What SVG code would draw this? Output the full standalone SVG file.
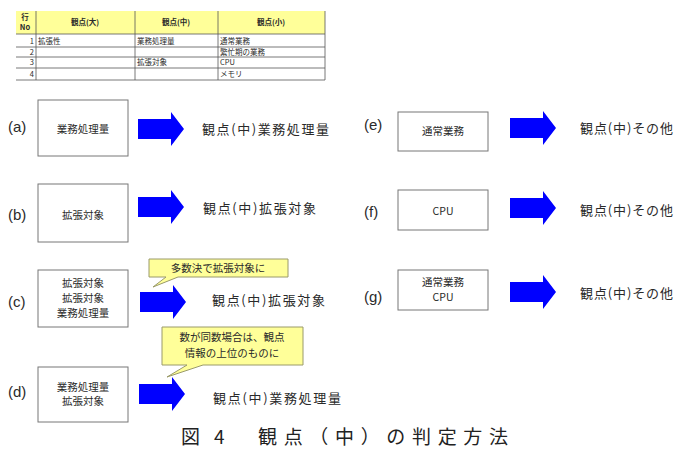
<svg xmlns="http://www.w3.org/2000/svg" xmlns:xlink="http://www.w3.org/1999/xlink" width="684" height="451" viewBox="0 0 684 451">
<style>
  text { font-family: "Noto Sans CJK JP", "Liberation Sans", sans-serif; fill: #2a2a2a; }
  .tbl { font-size: 7.5px; }
  .th { font-size: 7.5px; font-weight: bold; text-anchor: middle; }
  .tl { stroke: #555; stroke-width: 0.8; fill: none; }
  .box { fill: #fff; stroke: #777; stroke-width: 1; }
  .bt { font-size: 10.5px; text-anchor: middle; }
  .lbl { font-family: "Liberation Sans", "Noto Sans CJK JP", sans-serif; font-size: 15px; }
  .res { font-size: 13px; }
  .callout { fill: #ffff99; stroke: #9a9a6a; stroke-width: 1; }
  .ct { font-size: 10.5px; text-anchor: middle; }
  .arr { fill: #0000ff; }
  .cap { font-size: 19px; fill: #222; }
</style>
<defs>
  <path id="arr" d="M0,-10 H33 V-17 L46,0 L33,17 V10 H0 Z"/>
</defs>

<g id="table">
  <rect x="16" y="11" width="309" height="23" fill="#ffff99"/>
  <line class="tl" x1="16" y1="34" x2="325" y2="34" stroke-width="1.2"/>
  <line class="tl" x1="16" y1="47" x2="325" y2="47"/>
  <line class="tl" x1="16" y1="57" x2="325" y2="57"/>
  <line class="tl" x1="16" y1="68" x2="325" y2="68"/>
  <line class="tl" x1="16" y1="80" x2="325" y2="80"/>
  <line class="tl" x1="36" y1="11" x2="36" y2="80"/>
  <line class="tl" x1="135" y1="11" x2="135" y2="80"/>
  <line class="tl" x1="218" y1="11" x2="218" y2="80"/>
  <line class="tl" x1="325" y1="11" x2="325" y2="80" stroke="#aaa"/>
  <text class="th" x="25" y="20">行</text>
  <text class="th" x="25" y="30">No</text>
  <text class="th" x="85" y="25">観点(大)</text>
  <text class="th" x="176" y="25">観点(中)</text>
  <text class="th" x="271" y="25">観点(小)</text>
  <text class="tbl" x="34" y="44" text-anchor="end">1</text>
  <text class="tbl" x="34" y="55" text-anchor="end">2</text>
  <text class="tbl" x="34" y="65" text-anchor="end">3</text>
  <text class="tbl" x="34" y="77" text-anchor="end">4</text>
  <text class="tbl" x="38" y="44">拡張性</text>
  <text class="tbl" x="137" y="44">業務処理量</text>
  <text class="tbl" x="137" y="65">拡張対象</text>
  <text class="tbl" x="220" y="44">通常業務</text>
  <text class="tbl" x="220" y="55">繁忙期の業務</text>
  <text class="tbl" x="220" y="65">CPU</text>
  <text class="tbl" x="220" y="77">メモリ</text>
</g>

<g id="connectors">
  <use href="#arr" class="arr" x="138" y="129"/>
  <use href="#arr" class="arr" x="138" y="207"/>
  <use href="#arr" class="arr" x="140" y="302"/>
  <use href="#arr" class="arr" x="139" y="394"/>
  <use href="#arr" class="arr" x="510" y="128"/>
  <use href="#arr" class="arr" x="510" y="208"/>
  <use href="#arr" class="arr" x="510" y="292"/>
</g>

<g id="node-a">
  <text class="lbl" x="8" y="132">(a)</text>
  <rect class="box" x="38" y="100" width="90" height="56"/>
  <text class="bt" x="83" y="133">業務処理量</text>
  <text class="res" x="202" y="134" textLength="127">観点(中)業務処理量</text>
</g>

<g id="node-b">
  <text class="lbl" x="8" y="220">(b)</text>
  <rect class="box" x="38" y="184" width="90" height="58"/>
  <text class="bt" x="83" y="219">拡張対象</text>
  <text class="res" x="203" y="213" textLength="113">観点(中)拡張対象</text>
</g>

<g id="node-c">
  <text class="lbl" x="8" y="307">(c)</text>
  <rect class="box" x="38" y="270" width="90" height="57"/>
  <text class="bt" x="83" y="287">拡張対象</text>
  <text class="bt" x="83" y="302">拡張対象</text>
  <text class="bt" x="83" y="317">業務処理量</text>
  <text class="res" x="212" y="305" textLength="113">観点(中)拡張対象</text>
  <path class="callout" d="M149,259 H288 V277 H178 L153,287 L166,277 H149 Z"/>
  <text class="ct" x="218" y="272">多数決で拡張対象に</text>
</g>

<g id="node-d">
  <text class="lbl" x="8" y="397">(d)</text>
  <rect class="box" x="38" y="367" width="90" height="55"/>
  <text class="bt" x="83" y="391">業務処理量</text>
  <text class="bt" x="83" y="405">拡張対象</text>
  <text class="res" x="213" y="403" textLength="128">観点(中)業務処理量</text>
  <path class="callout" d="M162,327 H303 V365 H203 L167,377 L187,365 H162 Z"/>
  <text class="ct" x="232" y="341">数が同数場合は、観点</text>
  <text class="ct" x="232" y="357">情報の上位のものに</text>
</g>

<g id="node-e">
  <text class="lbl" x="364" y="130">(e)</text>
  <rect class="box" x="398" y="112" width="90" height="39"/>
  <text class="bt" x="443" y="135">通常業務</text>
  <text class="res" x="580" y="133" textLength="93">観点(中)その他</text>
</g>

<g id="node-f">
  <text class="lbl" x="364" y="217">(f)</text>
  <rect class="box" x="398" y="190" width="90" height="40"/>
  <text class="bt" x="443" y="215">CPU</text>
  <text class="res" x="580" y="215" textLength="93">観点(中)その他</text>
</g>

<g id="node-g">
  <text class="lbl" x="364" y="302">(g)</text>
  <rect class="box" x="398" y="270" width="90" height="40"/>
  <text class="bt" x="443" y="286">通常業務</text>
  <text class="bt" x="443" y="301">CPU</text>
  <text class="res" x="580" y="298" textLength="93">観点(中)その他</text>
</g>

<g id="caption">
  <text class="cap" x="181" y="444">図</text>
  <text class="cap" x="214" y="444">4</text>
  <text class="cap" x="258" y="444" textLength="250">観点（中）の判定方法</text>
</g>
</svg>
